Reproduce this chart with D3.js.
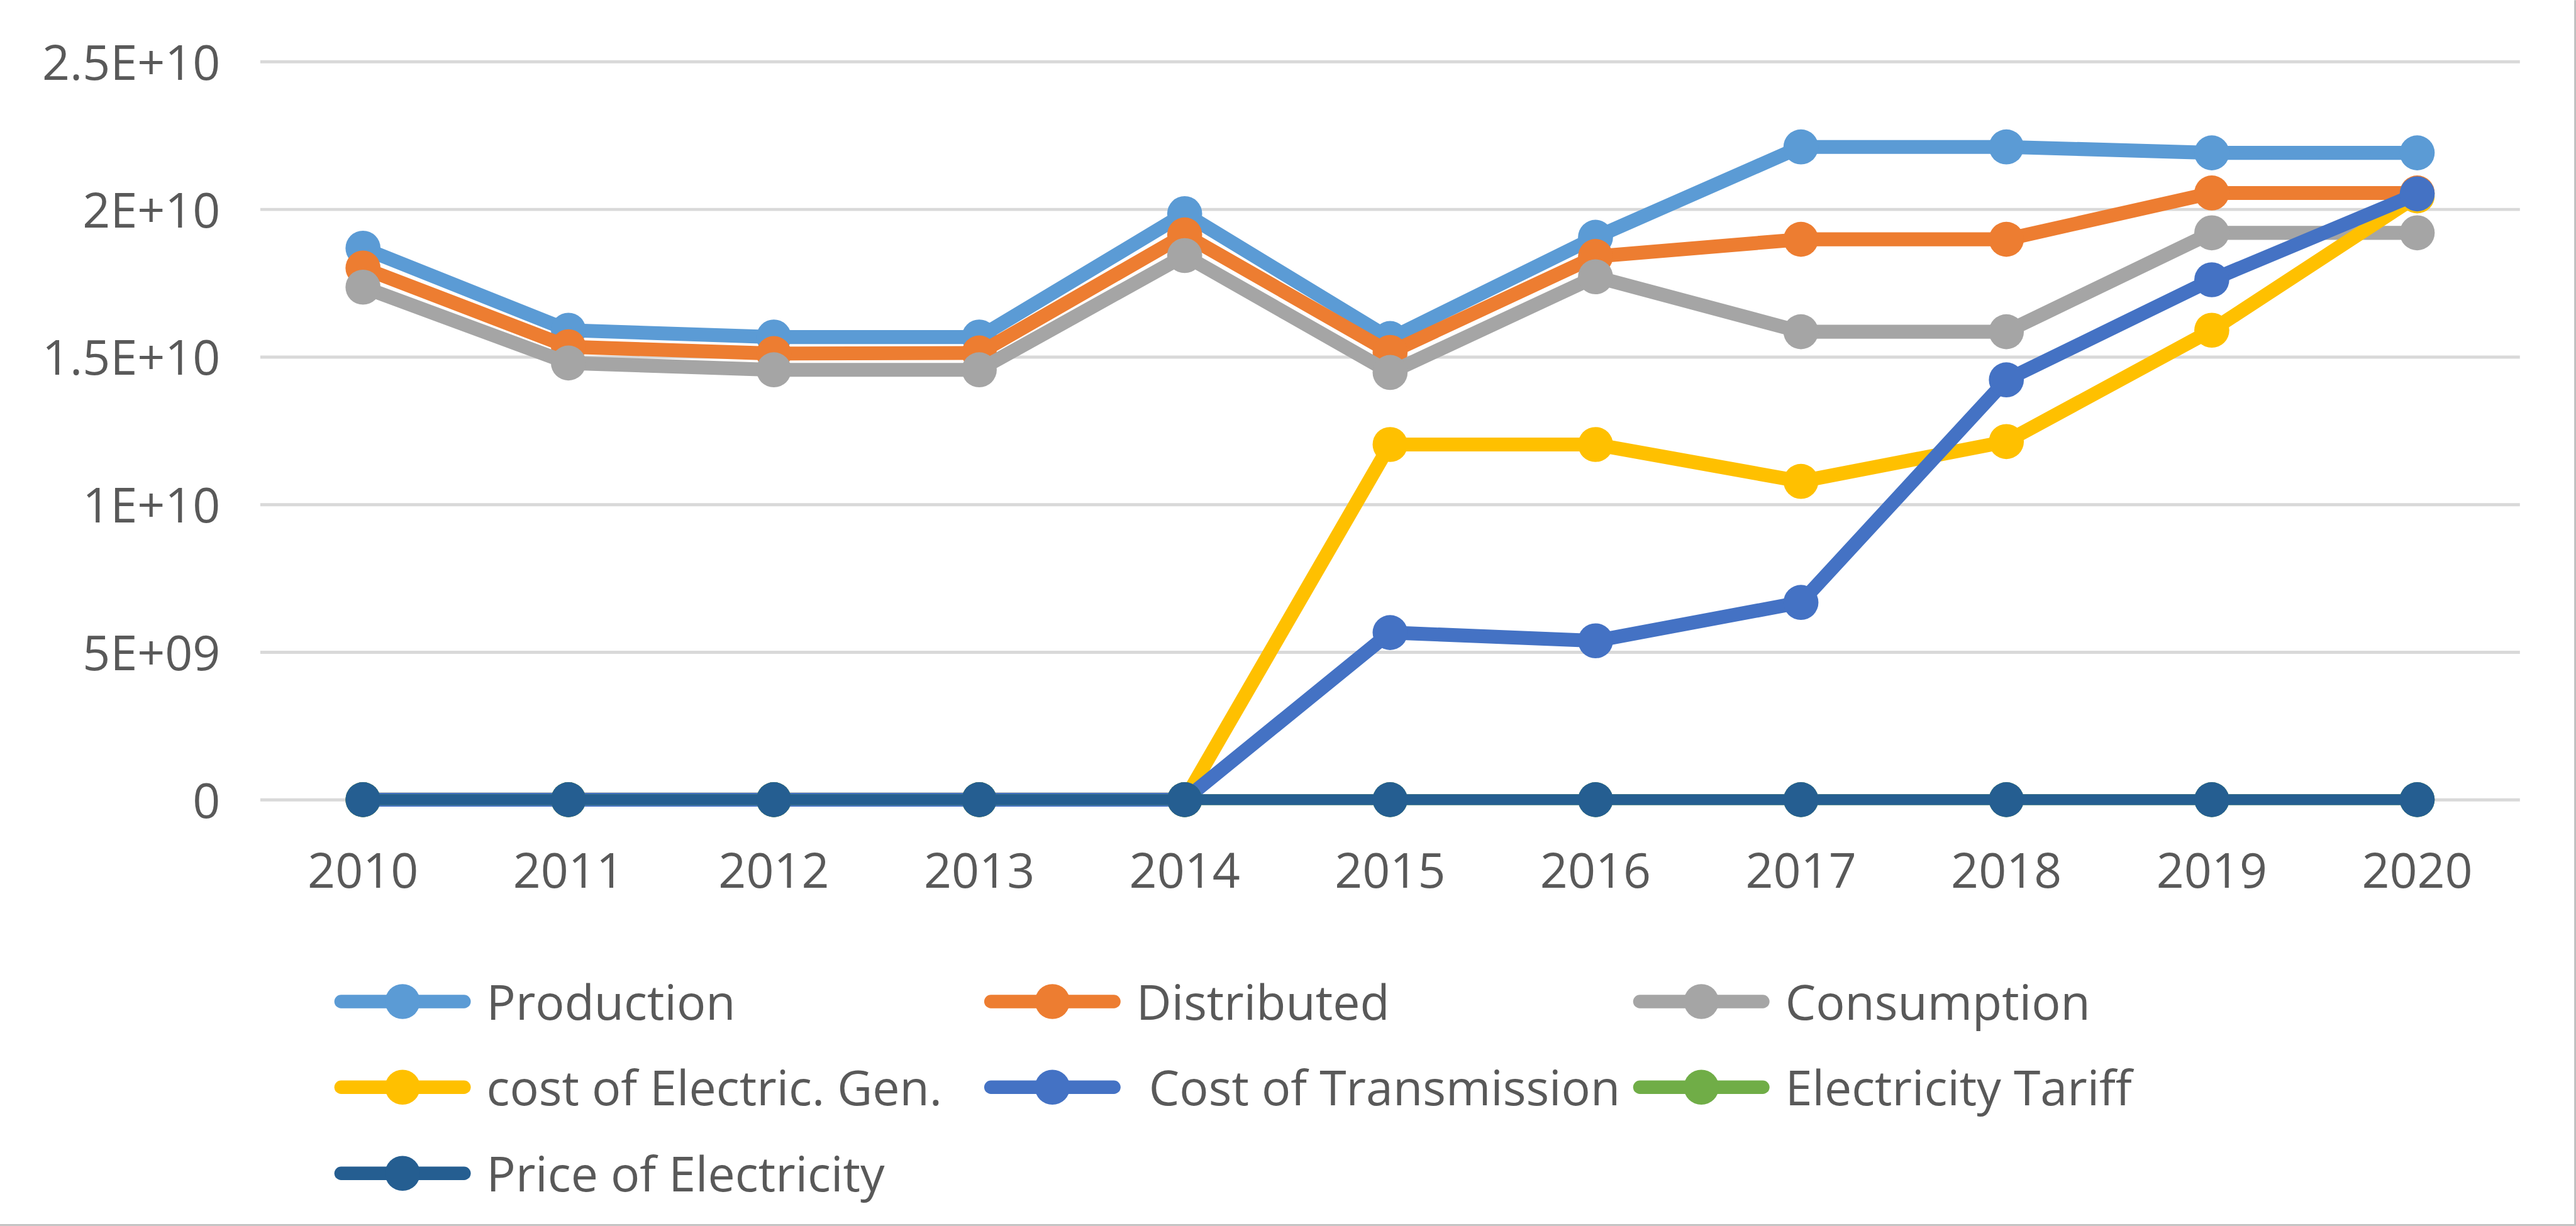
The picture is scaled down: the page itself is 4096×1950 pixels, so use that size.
<!DOCTYPE html>
<html>
<head>
<meta charset="utf-8">
<script src="https://cdn.jsdelivr.net/npm/d3@7"></script>
<style>
  html, body { margin: 0; padding: 0; background: #ffffff; }
  svg { display: block; }
  text { font-family: "Open Sans", "Noto Sans", sans-serif; fill: #595959; }
</style>
</head>
<body>
<svg id="chart" width="4096" height="1950" viewBox="0 0 5740 2732"></svg>
<script>
// ---- data ----
const years = ["2010","2011","2012","2013","2014","2015","2016","2017","2018","2019","2020"];

const production   = [1.868e10, 1.590e10, 1.567e10, 1.567e10, 1.985e10, 1.562e10, 1.905e10, 2.211e10, 2.211e10, 2.191e10, 2.191e10];
const distributed  = [1.801e10, 1.534e10, 1.511e10, 1.513e10, 1.913e10, 1.515e10, 1.840e10, 1.898e10, 1.898e10, 2.055e10, 2.055e10];
const consumption  = [1.736e10, 1.479e10, 1.456e10, 1.456e10, 1.843e10, 1.447e10, 1.771e10, 1.585e10, 1.585e10, 1.920e10, 1.920e10];
const costGen      = [0, 0, 0, 0, 0, 1.203e10, 1.203e10, 1.078e10, 1.213e10, 1.590e10, 2.045e10];
const costTrans    = [0, 0, 0, 0, 0, 5.66e9, 5.38e9, 6.68e9, 1.422e10, 1.761e10, 2.052e10];
const tariff       = [0, 0, 0, 0, 0, 0, 0, 0, 0, 0, 0];
const price        = [0, 0, 0, 0, 0, 0, 0, 0, 0, 0, 0];

const seriesNames  = ["Production", "Distributed", "Consumption", "cost of Electric. Gen.", " Cost of Transmission", "Electricity Tariff", "Price of Electricity"];
const seriesColors = ["#5B9BD5", "#ED7D31", "#A5A5A5", "#FFC000", "#4472C4", "#70AD47", "#255E91"];
const seriesValues = [production, distributed, consumption, costGen, costTrans, tariff, price];

const yTicks      = [0, 5e9, 1e10, 1.5e10, 2e10, 2.5e10];
const yTickLabels = ["0", "5E+09", "1E+10", "1.5E+10", "2E+10", "2.5E+10"];

// ---- layout (reference pixel units; viewBox scales to window) ----
const plotLeft = 580, plotRight = 5615, plotTop = 137, plotBottom = 1782;
const fontSize = 108;
const lineW = 31, markerR = 39;

const svg = d3.select("#chart");

const x = d3.scaleBand().domain(years).range([plotLeft, plotRight]).padding(0);
const y = d3.scaleLinear().domain([0, 2.5e10]).range([plotBottom, plotTop]);
const cx = d => x(d) + x.bandwidth() / 2;

// y axis with gridlines
const yAxis = d3.axisLeft(y)
  .tickValues(yTicks)
  .tickFormat(d => yTickLabels[yTicks.indexOf(d)])
  .tickSize(-(plotRight - plotLeft))
  .tickPadding(89);

const gy = svg.append("g").attr("transform", `translate(${plotLeft},0)`).call(yAxis);
gy.select(".domain").remove();
gy.selectAll(".tick line").attr("stroke", "#D9D9D9").attr("stroke-width", 7);
gy.selectAll(".tick text")
  .attr("font-size", fontSize)
  .attr("dy", "0.37em")
  .style("fill", "#595959");

// x axis labels
const xAxis = d3.axisBottom(x).tickSize(0).tickPadding(120);
const gx = svg.append("g").attr("transform", `translate(0,${plotBottom})`).call(xAxis);
gx.select(".domain").remove();
gx.selectAll(".tick text")
  .attr("font-size", fontSize)
  .style("fill", "#595959");

// series
const line = d3.line()
  .x((d, i) => cx(years[i]))
  .y(d => y(d))
  .curve(d3.curveLinear);

seriesValues.forEach((vals, si) => {
  const g = svg.append("g").attr("class", "series");
  g.append("path")
    .datum(vals)
    .attr("d", line)
    .attr("fill", "none")
    .attr("stroke", seriesColors[si])
    .attr("stroke-width", si >= 5 ? 24 : lineW)
    .attr("stroke-linejoin", "round")
    .attr("stroke-linecap", "round");
  g.selectAll("circle")
    .data(vals)
    .enter().append("circle")
    .attr("cx", (d, i) => cx(years[i]))
    .attr("cy", d => y(d))
    .attr("r", markerR)
    .attr("fill", seriesColors[si]);
});

// legend
const legCols = [897, 2345, 3791];
const legRows = [2232, 2423, 2615];
const legend = svg.append("g").attr("class", "legend");
seriesNames.forEach((name, i) => {
  const col = legCols[i % 3], row = legRows[Math.floor(i / 3)];
  const g = legend.append("g").attr("transform", `translate(${col},${row})`);
  g.append("line")
    .attr("x1", -137).attr("x2", 137)
    .attr("y1", 0).attr("y2", 0)
    .attr("stroke", seriesColors[i])
    .attr("stroke-width", 30)
    .attr("stroke-linecap", "round");
  g.append("circle").attr("r", markerR).attr("fill", seriesColors[i]);
  g.append("text")
    .attr("x", 187)
    .attr("y", 40)
    .attr("font-size", fontSize)
    .style("white-space", "pre")
    .text(name);
});

// chart border: only the right and bottom edges show in the reference
svg.append("path")
  .attr("d", "M5738,0 V2730 H0")
  .attr("fill", "none")
  .attr("stroke", "#BFBFBF")
  .attr("stroke-width", 4);
</script>
</body>
</html>
